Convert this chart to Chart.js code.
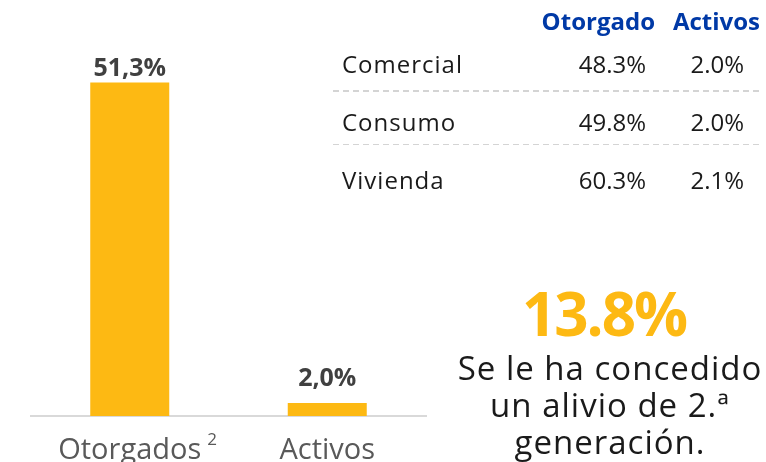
<!DOCTYPE html>
<html>
<head>
<meta charset="utf-8">
<script src="https://cdn.jsdelivr.net/npm/chart.js@4.4.1/dist/chart.umd.min.js"></script>
<style>
  html, body { margin:0; padding:0; background:#fff; overflow:hidden; }
  #wrap { position:relative; width:766px; height:462px; overflow:hidden; font-family:"Open Sans", sans-serif; }
  #c { position:absolute; left:0; top:0; }
  .t { position:absolute; white-space:nowrap; line-height:1; }
  .hdr { font-weight:700; color:#0039A6; font-size:24px; }
  .row { font-size:24px; color:#1a1a1a; }
  .name { letter-spacing:1px; }
  .sep { position:absolute; left:333px; width:427px; height:1.5px;
         background:repeating-linear-gradient(to right, #d4d4d4 0 6px, transparent 6px 10px); }
  #big { position:absolute; left:444px; width:320px; text-align:center; font-weight:700; color:#FDB913; font-size:60px; letter-spacing:-2px; line-height:1; }
  #desc { position:absolute; left:440px; width:340px; text-align:center; color:#1a1a1a; font-size:33px; letter-spacing:1px; line-height:37px; }
</style>
</head>
<body>
<div id="wrap">
  <canvas id="c" width="766" height="485"></canvas>
  <div id="table"></div>
  <div id="big"></div>
  <div id="desc"></div>
</div>
<script>
// ---- data ----
const categories = ['Otorgados', 'Activos'];
const categoryNotes = ['2', ''];
const shares = [51.3, 2.0];
const tableHeaders = ['Otorgado', 'Activos'];
const tableRows = ['Comercial', 'Consumo', 'Vivienda'];
const tableOtorgado = ['48.3%', '49.8%', '60.3%'];
const tableActivos = ['2.0%', '2.0%', '2.1%'];
const headline = '13.8%';
const descLines = ['Se le ha concedido', 'un alivio de 2.ª', 'generación.'];

// ---- side text ----
const tbl = document.getElementById('table');
function addText(cls, txt, style) {
  const d = document.createElement('div');
  d.className = 't ' + cls;
  d.textContent = txt;
  Object.assign(d.style, style);
  tbl.appendChild(d);
  return d;
}
addText('hdr', tableHeaders[0], { right: (766 - 655) + 'px', top: '9px' });
addText('hdr', tableHeaders[1], { right: (766 - 760) + 'px', top: '9px' });
const rowTops = [52, 110, 168];
tableRows.forEach((r, i) => {
  addText('row name', r, { left: '342px', top: rowTops[i] + 'px' });
  addText('row', tableOtorgado[i], { right: (766 - 646) + 'px', top: rowTops[i] + 'px' });
  addText('row', tableActivos[i], { right: (766 - 744) + 'px', top: rowTops[i] + 'px' });
});
[90, 143.5].forEach(y => {
  const s = document.createElement('div');
  s.className = 'sep';
  s.style.top = y + 'px';
  tbl.appendChild(s);
});
const big = document.getElementById('big');
big.textContent = headline;
big.style.top = '283px';
const desc = document.getElementById('desc');
desc.innerHTML = descLines.map(l => '<div>' + l + '</div>').join('');
desc.style.top = '349px';

// ---- chart ----
const valueLabels = {
  id: 'valueLabels',
  afterDatasetsDraw(chart, args, opts) {
    const ctx = chart.ctx;
    const meta = chart.getDatasetMeta(0);
    ctx.save();
    ctx.font = '700 25px "Open Sans"';
    ctx.fillStyle = '#404040';
    ctx.textAlign = 'center';
    ctx.textBaseline = 'alphabetic';
    meta.data.forEach((bar, i) => {
      const txt = shares[i].toFixed(1).replace('.', ',') + '%';
      ctx.fillText(txt, bar.x, bar.y - opts.offsets[i]);
    });
    // superscript notes next to category labels
    const xs = chart.scales.x;
    ctx.textAlign = 'left';
    ctx.fillStyle = '#595959';
    categories.forEach((c, i) => {
      if (!categoryNotes[i]) return;
      ctx.font = '29px "Open Sans"';
      const w = ctx.measureText(c).width;
      ctx.font = '17px "Open Sans"';
      ctx.fillText(categoryNotes[i], xs.getPixelForTick(i) + w / 2 + 6, 445);
    });
    ctx.restore();
  }
};

new Chart(document.getElementById('c'), {
  type: 'bar',
  data: {
    labels: categories,
    datasets: [{
      data: shares,
      backgroundColor: '#FDB913',
      borderWidth: 0,
      barPercentage: 0.4,
      categoryPercentage: 1.0
    }]
  },
  options: {
    responsive: false,
    animation: false,
    devicePixelRatio: 1,
    layout: { padding: { left: 31, right: 340, top: 26, bottom: 0 } },
    plugins: {
      legend: { display: false },
      tooltip: { enabled: false },
      valueLabels: { offsets: [7, 17] }
    },
    scales: {
      y: { display: false, min: 0, max: 60 },
      x: {
        grid: { display: false, drawTicks: false },
        border: { display: true, color: '#d9d9d9', width: 2 },
        ticks: {
          color: '#595959',
          padding: 20,
          font: { family: 'Open Sans', size: 29, lineHeight: 1 }
        }
      }
    }
  },
  plugins: [valueLabels]
});
</script>
</body>
</html>
